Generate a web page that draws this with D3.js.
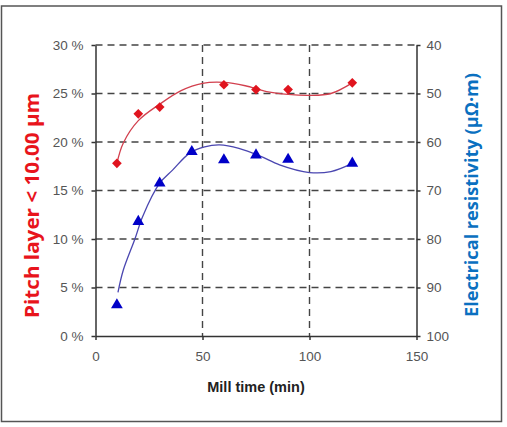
<!DOCTYPE html>
<html>
<head>
<meta charset="utf-8">
<script src="https://cdn.jsdelivr.net/npm/d3@7"></script>
<style>
  body { margin: 0; background: #fff; }
  svg { display: block; }
</style>
</head>
<body>
<script>
// mill time (min) of the measured samples
var pitchTimes = [10, 20, 30, 60, 75, 90, 120];
var pitchValues = [17.8, 22.9, 23.6, 25.9, 25.4, 25.4, 26.1];   // %

var resTimes = [10, 20, 30, 45, 60, 75, 90, 120];
var resValues = [93.6, 76.4, 68.5, 62.0, 63.7, 62.7, 63.6, 64.4]; // µΩ·m

// trend curves
var pitchTrendX = [10, 13, 20, 30, 40, 50, 60, 70, 80, 90, 100, 110, 120];
var pitchTrendY = [17.8, 19.9, 22.2, 23.9, 25.3, 26.05, 26.15, 25.8, 25.2, 24.9, 24.8, 25.0, 26.1];
var resTrendX = [10.5, 13, 18.5, 22, 30, 36, 44, 51, 58, 67, 77, 86, 100, 110, 120];
var resTrendY = [91, 86.4, 79.9, 75.4, 68.5, 65.8, 62.3, 61.0, 60.6, 61.3, 62.9, 64.7, 66.3, 66.1, 64.4];

var xTicks = [0, 50, 100, 150];
var pctTicks = [0, 5, 10, 15, 20, 25, 30];
var resTicks = [40, 50, 60, 70, 80, 90, 100];

(function() {
  var W = 507, H = 427;
  var plotL = 95.5, plotR = 416.5, plotT = 45, plotB = 336;

  var svg = d3.select(document.body).append("svg")
    .attr("width", W).attr("height", H);

  // outer frame
  svg.append("rect")
    .attr("x", 1.5).attr("y", 6).attr("width", 500).attr("height", 415.5)
    .attr("fill", "none").attr("stroke", "#555").attr("stroke-width", 1.5);

  var x = d3.scaleLinear().domain([0, 150]).range([plotL, plotR]);
  var yP = d3.scaleLinear().domain([0, 30]).range([plotB, plotT]);
  var yR = d3.scaleLinear().domain([40, 100]).range([plotT, plotB]);

  var tickFont = "'Liberation Sans', Arial, sans-serif";

  // dashed grid
  var grid = svg.append("g").attr("stroke", "#444").attr("stroke-width", 1.4)
    .attr("stroke-dasharray", "7,5");
  grid.selectAll("line.h").data(pctTicks.filter(function(d) { return d > 0; }))
    .enter().append("line").attr("class", "h")
    .attr("x1", plotL).attr("x2", plotR)
    .attr("y1", function(d) { return yP(d); }).attr("y2", function(d) { return yP(d); });
  grid.selectAll("line.v").data([50, 100])
    .enter().append("line").attr("class", "v")
    .attr("y1", plotT).attr("y2", plotB)
    .attr("x1", function(d) { return x(d); }).attr("x2", function(d) { return x(d); });

  // axes
  var xAxis = d3.axisBottom(x).tickValues(xTicks).tickSize(4).tickSizeOuter(0).tickPadding(11);
  var yAxisL = d3.axisLeft(yP).tickValues(pctTicks).tickSize(4).tickSizeOuter(0)
    .tickFormat(function(d) { return d + " %"; }).tickPadding(8);
  var yAxisR = d3.axisRight(yR).tickValues(resTicks).tickSize(4).tickSizeOuter(0).tickPadding(6);

  function styleAxis(g) {
    g.select(".domain").attr("stroke", "#333").attr("stroke-width", 1.5);
    g.selectAll(".tick line").attr("stroke", "#333").attr("stroke-width", 1.5);
    g.selectAll(".tick text").attr("fill", "#555")
      .style("font-family", tickFont).style("font-size", "13.5px");
  }

  svg.append("g").attr("transform", "translate(0," + plotB + ")").call(xAxis).call(styleAxis);
  svg.append("g").attr("transform", "translate(" + plotL + ",0)").call(yAxisL).call(styleAxis);
  svg.append("g").attr("transform", "translate(" + plotR + ",0)").call(yAxisR).call(styleAxis);

  // trend curves
  var pitchLine = d3.line()
    .x(function(d) { return x(d[0]); }).y(function(d) { return yP(d[1]); })
    .curve(d3.curveCatmullRom);
  var resLine = d3.line()
    .x(function(d) { return x(d[0]); }).y(function(d) { return yR(d[1]); })
    .curve(d3.curveCatmullRom);

  svg.append("path")
    .datum(d3.zip(pitchTrendX, pitchTrendY))
    .attr("d", pitchLine).attr("fill", "none")
    .attr("stroke", "#d2404e").attr("stroke-width", 1.3);
  svg.append("path")
    .datum(d3.zip(resTrendX, resTrendY))
    .attr("d", resLine).attr("fill", "none")
    .attr("stroke", "#4a46b0").attr("stroke-width", 1.3);

  // markers
  svg.selectAll("path.pitch").data(d3.zip(pitchTimes, pitchValues))
    .enter().append("path").attr("class", "pitch")
    .attr("d", d3.symbol().type(d3.symbolDiamond2).size(60))
    .attr("transform", function(d) { return "translate(" + x(d[0]) + "," + yP(d[1]) + ")"; })
    .attr("fill", "#e0141e");

  svg.selectAll("path.res").data(d3.zip(resTimes, resValues))
    .enter().append("path").attr("class", "res")
    .attr("d", d3.symbol().type(d3.symbolTriangle).size(60))
    .attr("transform", function(d) { return "translate(" + x(d[0]) + "," + yR(d[1]) + ")"; })
    .attr("fill", "#0000c8");

  // axis titles
  svg.append("text")
    .attr("x", (plotL + plotR) / 2).attr("y", 392)
    .attr("text-anchor", "middle")
    .style("font-family", tickFont).style("font-weight", "bold").style("font-size", "14.5px")
    .attr("fill", "#222").text("Mill time (min)");

  svg.append("text")
    .attr("transform", "translate(38.5,205.5) rotate(-90)")
    .attr("text-anchor", "middle")
    .attr("textLength", 225).attr("lengthAdjust", "spacingAndGlyphs")
    .style("font-family", "'Open Sans', sans-serif").style("font-weight", "bold").style("font-size", "19px")
    .attr("fill", "#e8141c").text("Pitch layer < 10.00 \u00b5m");

  svg.append("text")
    .attr("transform", "translate(478,195) rotate(-90)")
    .attr("text-anchor", "middle")
    .attr("textLength", 244).attr("lengthAdjust", "spacingAndGlyphs")
    .style("font-family", "'Open Sans', sans-serif").style("font-weight", "bold").style("font-size", "18px")
    .attr("fill", "#0a70c0").text("Electrical resistivity (\u00b5\u03a9\u00b7m)");
})();
</script>
</body>
</html>
